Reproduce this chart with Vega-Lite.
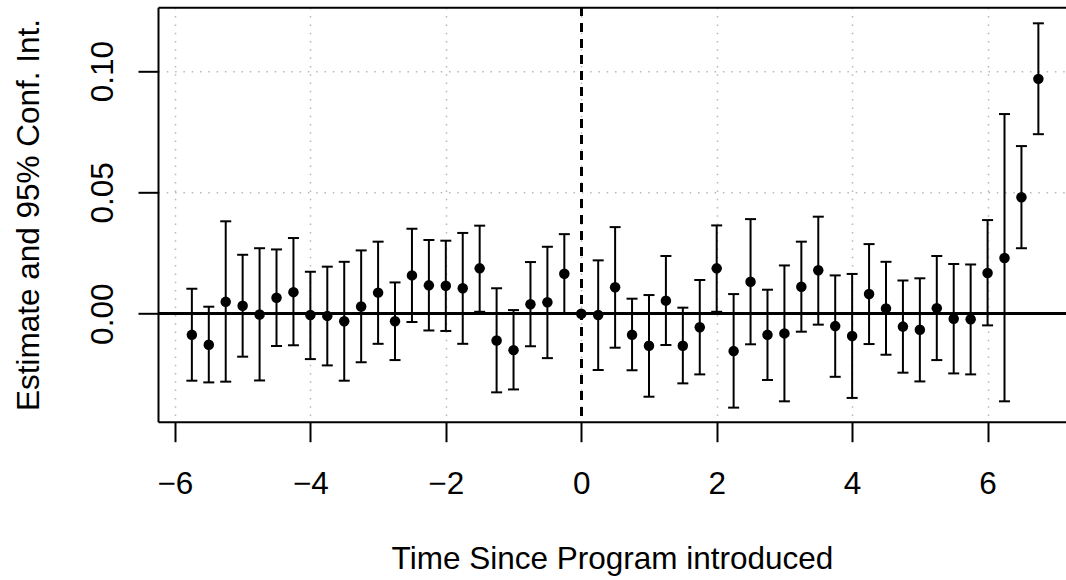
{
  "$schema": "https://vega.github.io/schema/vega-lite/v6.json",
  "width": 908,
  "height": 414.4,
  "autosize": {"type": "none"},
  "padding": {"left": 158, "top": 7.3, "right": 0, "bottom": 158.3},
  "background": "white",
  "config": {
    "view": {"stroke": null},
    "font": "Liberation Sans",
    "axis": {
      "labelFont": "Liberation Sans",
      "titleFont": "Liberation Sans",
      "labelFontSize": 31.5,
      "titleFontSize": 31.5,
      "labelColor": "black",
      "titleColor": "black",
      "titleFontWeight": "normal",
      "tickColor": "black",
      "tickWidth": 2,
      "tickSize": 20,
      "domainColor": "black",
      "domainWidth": 2,
      "gridColor": "#b8b8b8",
      "gridWidth": 1.5,
      "gridDash": [1.5, 6.8]
    }
  },
  "data": {
    "values": [
      {"x": -5.75, "est": -0.0087, "lo": -0.0276, "hi": 0.0103},
      {"x": -5.5, "est": -0.0128, "lo": -0.0283, "hi": 0.0029},
      {"x": -5.25, "est": 0.0049, "lo": -0.028, "hi": 0.0381},
      {"x": -5.0, "est": 0.0033, "lo": -0.0177, "hi": 0.0243},
      {"x": -4.75, "est": -0.0003, "lo": -0.0275, "hi": 0.027},
      {"x": -4.5, "est": 0.0066, "lo": -0.0133, "hi": 0.0265},
      {"x": -4.25, "est": 0.0089, "lo": -0.013, "hi": 0.0312},
      {"x": -4.0, "est": -0.0005, "lo": -0.0187, "hi": 0.0173},
      {"x": -3.75, "est": -0.0009, "lo": -0.0213, "hi": 0.0194},
      {"x": -3.5, "est": -0.0031, "lo": -0.0276, "hi": 0.0214},
      {"x": -3.25, "est": 0.003, "lo": -0.02, "hi": 0.0261},
      {"x": -3.0, "est": 0.0087, "lo": -0.0124, "hi": 0.0297},
      {"x": -2.75, "est": -0.0031, "lo": -0.0191, "hi": 0.0129},
      {"x": -2.5, "est": 0.0158, "lo": -0.0034, "hi": 0.035},
      {"x": -2.25, "est": 0.0117, "lo": -0.0069, "hi": 0.0304},
      {"x": -2.0, "est": 0.0115, "lo": -0.0071, "hi": 0.0301},
      {"x": -1.75, "est": 0.0105, "lo": -0.0124, "hi": 0.0333},
      {"x": -1.5, "est": 0.0187, "lo": 0.0008, "hi": 0.0363},
      {"x": -1.25, "est": -0.011, "lo": -0.0324, "hi": 0.0105},
      {"x": -1.0, "est": -0.015, "lo": -0.0312, "hi": 0.0015},
      {"x": -0.75, "est": 0.0039, "lo": -0.0134, "hi": 0.0213},
      {"x": -0.5, "est": 0.0047, "lo": -0.0183, "hi": 0.0276},
      {"x": -0.25, "est": 0.0165, "lo": 0.0003, "hi": 0.0328},
      {"x": 0, "est": 0, "lo": null, "hi": null},
      {"x": 0.25, "est": -0.0005, "lo": -0.0232, "hi": 0.022},
      {"x": 0.5, "est": 0.0109, "lo": -0.014, "hi": 0.0357},
      {"x": 0.75, "est": -0.0087, "lo": -0.0233, "hi": 0.0062},
      {"x": 1.0, "est": -0.0132, "lo": -0.0342, "hi": 0.0077},
      {"x": 1.25, "est": 0.0054, "lo": -0.0129, "hi": 0.0238},
      {"x": 1.5, "est": -0.0132, "lo": -0.0287, "hi": 0.0025},
      {"x": 1.75, "est": -0.0056, "lo": -0.025, "hi": 0.0139},
      {"x": 2.0, "est": 0.0187, "lo": 0.0008, "hi": 0.0364},
      {"x": 2.25, "est": -0.0154, "lo": -0.0387, "hi": 0.0081},
      {"x": 2.5, "est": 0.0132, "lo": -0.0126, "hi": 0.039},
      {"x": 2.75, "est": -0.0087, "lo": -0.0273, "hi": 0.0099},
      {"x": 3.0, "est": -0.0081, "lo": -0.0361, "hi": 0.0199},
      {"x": 3.25, "est": 0.0111, "lo": -0.0074, "hi": 0.0297},
      {"x": 3.5, "est": 0.0179, "lo": -0.0045, "hi": 0.04},
      {"x": 3.75, "est": -0.0051, "lo": -0.026, "hi": 0.0158},
      {"x": 4.0, "est": -0.0092, "lo": -0.0347, "hi": 0.0164},
      {"x": 4.25, "est": 0.0081, "lo": -0.0125, "hi": 0.0287},
      {"x": 4.5, "est": 0.0022, "lo": -0.0169, "hi": 0.0214},
      {"x": 4.75, "est": -0.0053, "lo": -0.0243, "hi": 0.0137},
      {"x": 5.0, "est": -0.0066, "lo": -0.0279, "hi": 0.0146},
      {"x": 5.25, "est": 0.0023, "lo": -0.0191, "hi": 0.0238},
      {"x": 5.5, "est": -0.0021, "lo": -0.0246, "hi": 0.0205},
      {"x": 5.75, "est": -0.0023, "lo": -0.025, "hi": 0.0203},
      {"x": 6.0, "est": 0.0168, "lo": -0.0048, "hi": 0.0386},
      {"x": 6.25, "est": 0.023, "lo": -0.0361, "hi": 0.0823},
      {"x": 6.5, "est": 0.048, "lo": 0.027, "hi": 0.0691},
      {"x": 6.75, "est": 0.0968, "lo": 0.074, "hi": 0.1197}
    ]
  },
  "layer": [
    {
      "mark": {"type": "point", "filled": true, "opacity": 0, "size": 1},
      "encoding": {
        "x": {
          "field": "x", "type": "quantitative",
          "scale": {"domain": [-6.25, 7.158], "nice": false, "zero": false},
          "axis": {
            "values": [-6, -4, -2, 0, 2, 4, 6],
            "grid": true,
            "domain": true,
            "labelBaseline": "alphabetic",
            "labelPadding": 51.6,
            "labelExpr": "replace(datum.label, '-', '\u2212')",
            "title": "Time Since Program introduced",
            "titleBaseline": "alphabetic",
            "titleY": 146.3
          }
        },
        "y": {
          "field": "est", "type": "quantitative",
          "scale": {"domain": [-0.0445, 0.1263], "nice": false, "zero": false},
          "axis": {
            "values": [0, 0.05, 0.1],
            "format": ".2f",
            "grid": true,
            "domain": true,
            "labelAngle": -90,
            "labelAlign": "center",
            "labelBaseline": "alphabetic",
            "labelPadding": 26,
            "title": "Estimate and 95% Conf. Int.",
            "titleBaseline": "alphabetic",
            "titleX": -119.7,
            "titleY": 207.2
          }
        }
      }
    },
    {
      "mark": {"type": "rule", "color": "black", "strokeWidth": 2, "strokeDash": [8, 8]},
      "encoding": {
        "x": {
          "datum": 0, "type": "quantitative",
          "axis": {"orient": "top", "labels": false, "ticks": false, "grid": false, "domain": true, "title": null}
        }
      }
    },
    {
      "mark": {"type": "rule", "color": "black", "strokeWidth": 2},
      "encoding": {
        "y": {"datum": 0, "type": "quantitative"}
      }
    },
    {
      "mark": {"type": "rule", "color": "black", "strokeWidth": 2},
      "encoding": {
        "x": {"field": "x", "type": "quantitative", "axis": null},
        "y": {"field": "lo", "type": "quantitative"},
        "y2": {"field": "hi"}
      }
    },
    {
      "mark": {"type": "tick", "orient": "horizontal", "color": "black", "size": 11, "thickness": 2, "opacity": 1},
      "encoding": {
        "x": {"field": "x", "type": "quantitative", "axis": null},
        "y": {"field": "lo", "type": "quantitative"}
      }
    },
    {
      "mark": {"type": "tick", "orient": "horizontal", "color": "black", "size": 11, "thickness": 2, "opacity": 1},
      "encoding": {
        "x": {"field": "x", "type": "quantitative", "axis": null},
        "y": {"field": "hi", "type": "quantitative"}
      }
    },
    {
      "mark": {"type": "circle", "color": "black", "opacity": 1, "size": 110},
      "encoding": {
        "x": {"field": "x", "type": "quantitative", "axis": null},
        "y": {"field": "est", "type": "quantitative"}
      }
    }
  ],
  "resolve": {"scale": {"x": "shared", "y": "shared"}, "axis": {"x": "independent"}}
}
